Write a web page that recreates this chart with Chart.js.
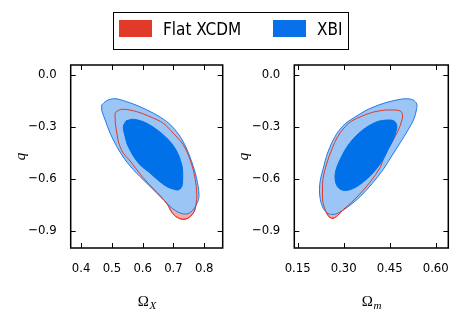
<!DOCTYPE html>
<html>
<head>
<meta charset="utf-8">
<script src="https://cdn.jsdelivr.net/npm/chart.js@4.4.1/dist/chart.umd.min.js"></script>
<style>
  body { margin: 0; background: #fff; }
  #wrap { position: relative; width: 463px; height: 327px; overflow: hidden; background: #fff; }
  .panel { position: absolute; top: 0; height: 327px; }
  #legendBox { position: absolute; left: 113px; top: 11.5px; width: 236px; height: 38.5px;
    border: 1.5px solid #000; box-sizing: border-box; }
  .sw { position: absolute; top: 20px; width: 33px; height: 17px; }
  .lab { position: absolute; top: 21px; font-family: 'DejaVu Sans Condensed', 'DejaVu Sans', sans-serif;
    font-size: 17px; line-height: 17px; color: #000; white-space: nowrap; }
</style>
</head>
<body>
<div id="wrap">
  <div class="panel" style="left:0;width:232px"><canvas id="leftChart"></canvas></div>
  <div class="panel" style="left:232px;width:231px"><canvas id="rightChart"></canvas></div>
  <div id="legendBox"></div>
  <div class="sw" style="left:119px;background:#e13a28"></div>
  <div class="lab" style="left:163px">Flat XCDM</div>
  <div class="sw" style="left:273px;background:#0871e9"></div>
  <div class="lab" style="left:317px">XBI</div>
</div>
<script>
// tick labels
const leftXTicks = [0.4, 0.5, 0.6, 0.7, 0.8];
const rightXTicks = [0.15, 0.30, 0.45, 0.60];
const qTicks = [0.0, -0.3, -0.6, -0.9];

// left panel: Omega_X vs q, contours as [x, y]
const xbiOuterLeft = [
  [0.467, -0.173], [0.483, -0.148], [0.510, -0.137], [0.548, -0.154], [0.591, -0.183],
  [0.635, -0.221], [0.678, -0.269], [0.710, -0.327], [0.737, -0.404], [0.759, -0.500],
  [0.775, -0.596], [0.783, -0.692], [0.779, -0.731], [0.764, -0.779], [0.746, -0.802],
  [0.725, -0.800], [0.706, -0.783], [0.689, -0.760], [0.646, -0.683], [0.591, -0.587],
  [0.570, -0.548], [0.543, -0.490], [0.516, -0.414], [0.494, -0.336], [0.478, -0.260],
  [0.467, -0.205]
];
const xcdmLeft = [
  [0.510, -0.221], [0.517, -0.208], [0.537, -0.198], [0.581, -0.212], [0.624, -0.241],
  [0.667, -0.279], [0.699, -0.336], [0.732, -0.404], [0.756, -0.500], [0.770, -0.596],
  [0.776, -0.692], [0.773, -0.750], [0.767, -0.790], [0.752, -0.822], [0.734, -0.834],
  [0.715, -0.826], [0.700, -0.806], [0.690, -0.780], [0.682, -0.752], [0.660, -0.703],
  [0.636, -0.660], [0.603, -0.597], [0.581, -0.548], [0.556, -0.490], [0.537, -0.452],
  [0.522, -0.392], [0.516, -0.336], [0.511, -0.277]
];
const xbiInnerLeft = [
  [0.546, -0.265], [0.570, -0.256], [0.613, -0.279], [0.667, -0.346], [0.705, -0.423],
  [0.727, -0.519], [0.730, -0.596], [0.727, -0.645], [0.716, -0.664], [0.695, -0.657],
  [0.678, -0.645], [0.650, -0.608], [0.624, -0.567], [0.586, -0.509], [0.553, -0.414],
  [0.543, -0.356], [0.537, -0.298]
];

// right panel: Omega_m vs q
const xbiOuterRight = [
  [0.484, -0.140], [0.505, -0.137], [0.526, -0.144], [0.538, -0.167], [0.537, -0.202],
  [0.529, -0.254], [0.510, -0.317], [0.484, -0.392], [0.457, -0.467], [0.428, -0.548],
  [0.392, -0.629], [0.353, -0.704], [0.314, -0.762], [0.281, -0.799], [0.265, -0.806],
  [0.249, -0.801], [0.234, -0.773], [0.224, -0.721], [0.221, -0.664], [0.224, -0.606],
  [0.232, -0.548], [0.249, -0.444], [0.275, -0.346], [0.304, -0.283], [0.327, -0.254],
  [0.353, -0.225], [0.386, -0.193], [0.438, -0.159]
];
const xcdmRight = [
  [0.438, -0.202], [0.457, -0.202], [0.477, -0.204], [0.488, -0.213], [0.492, -0.237],
  [0.488, -0.271], [0.477, -0.323], [0.454, -0.398], [0.432, -0.473], [0.418, -0.537],
  [0.389, -0.612], [0.356, -0.681], [0.324, -0.739], [0.298, -0.779], [0.281, -0.811],
  [0.265, -0.828], [0.252, -0.819], [0.241, -0.785], [0.232, -0.733], [0.231, -0.664],
  [0.232, -0.606], [0.239, -0.548], [0.252, -0.473], [0.278, -0.364], [0.304, -0.300],
  [0.327, -0.265], [0.360, -0.237], [0.399, -0.213]
];
const xbiInnerRight = [
  [0.441, -0.260], [0.461, -0.263], [0.472, -0.283], [0.472, -0.317], [0.461, -0.375],
  [0.444, -0.433], [0.428, -0.490], [0.396, -0.565], [0.356, -0.629], [0.324, -0.661],
  [0.298, -0.666], [0.280, -0.646], [0.272, -0.600], [0.275, -0.548], [0.288, -0.490],
  [0.311, -0.415], [0.340, -0.352], [0.376, -0.300], [0.412, -0.268]
];

const RED = "#e13a28";
const RED_FILL = "rgb(246,170,166)";
const BLUE = "#1f78e8";
const BLUE_FILL = "rgb(155,197,245)";
const DARK_BLUE = "rgb(0,113,233)";
const tickFont = { family: "'DejaVu Sans Condensed', 'DejaVu Sans', sans-serif", size: 13 };

function closed(pts) {
  const out = pts.map(p => ({ x: p[0], y: p[1] }));
  out.push({ x: pts[0][0], y: pts[0][1] });
  return out;
}

function contour(pts, fillColor, lineColor, order, doFill) {
  return {
    data: closed(pts),
    showLine: true,
    fill: doFill ? "shape" : false,
    backgroundColor: fillColor,
    borderColor: lineColor,
    borderWidth: 1,
    pointRadius: 0,
    tension: 0.35,
    order: order
  };
}

// inward ticks, frame and axis titles
const framePlugin = {
  id: "frame",
  afterDraw(chart, args, opts) {
    const { ctx, chartArea: a } = chart;
    const xs = chart.scales.x, ys = chart.scales.y;
    ctx.save();
    ctx.strokeStyle = "#000";
    ctx.lineWidth = 1;
    ctx.beginPath();
    xs.ticks.forEach(t => {
      const px = Math.round(xs.getPixelForValue(t.value)) + 0.5;
      ctx.moveTo(px, a.bottom); ctx.lineTo(px, a.bottom - 5);
      ctx.moveTo(px, a.top); ctx.lineTo(px, a.top + 5);
    });
    ys.ticks.forEach(t => {
      const py = Math.round(ys.getPixelForValue(t.value)) + 0.5;
      ctx.moveTo(a.left, py); ctx.lineTo(a.left + 5, py);
      ctx.moveTo(a.right, py); ctx.lineTo(a.right - 5, py);
    });
    ctx.stroke();
    ctx.lineWidth = 1.5;
    ctx.strokeRect(a.left, a.top, a.right - a.left, a.bottom - a.top);

    // x title: Omega with subscript
    ctx.fillStyle = "#000";
    ctx.textBaseline = "alphabetic";
    ctx.font = "15px 'Liberation Serif', serif";
    const mainW = ctx.measureText("Ω").width;
    ctx.font = "italic 11px 'Liberation Serif', serif";
    const subW = ctx.measureText(opts.sub).width;
    const cx = (a.left + a.right) / 2;
    const x0 = cx - (mainW + subW) / 2;
    ctx.font = "15px 'Liberation Serif', serif";
    ctx.fillText("Ω", x0, 305.5);
    ctx.font = "italic 11px 'Liberation Serif', serif";
    ctx.fillText(opts.sub, x0 + mainW + 0.5, 308.5);

    // y title: q
    ctx.save();
    ctx.translate(a.left - 50, (a.top + a.bottom) / 2);
    ctx.rotate(-Math.PI / 2);
    ctx.font = "italic 15px 'Liberation Serif', serif";
    ctx.textAlign = "center";
    ctx.textBaseline = "middle";
    ctx.fillText("q", 0, 0);
    ctx.restore();
    ctx.restore();
  }
};

function makeChart(id, outer, xcdm, inner, xMin, xMax, xTicks, digits, yWidth, rightPad, sub) {
  return new Chart(document.getElementById(id), {
    type: "scatter",
    data: {
      datasets: [
        contour(xcdm, RED_FILL, RED, 4, true),
        contour(outer, BLUE_FILL, BLUE, 3, true),
        contour(xcdm, "rgba(0,0,0,0)", RED, 2, false),
        contour(inner, DARK_BLUE, DARK_BLUE, 1, true)
      ]
    },
    options: {
      responsive: true,
      maintainAspectRatio: false,
      animation: false,
      layout: { padding: { top: 65, right: rightPad, left: 0, bottom: 0 } },
      plugins: { legend: { display: false }, tooltip: { enabled: false }, frame: { sub: sub } },
      scales: {
        x: {
          type: "linear",
          min: xMin,
          max: xMax,
          afterBuildTicks: (scale) => { scale.ticks = xTicks.map(v => ({ value: v })); },
          afterFit: (scale) => { scale.height = 79; },
          grid: { display: false },
          border: { display: false },
          ticks: {
            font: tickFont,
            color: "#000",
            padding: 5,
            maxRotation: 0,
            autoSkip: false,
            callback: (v) => v.toFixed(digits)
          }
        },
        y: {
          type: "linear",
          min: -1.0,
          max: 0.058,
          afterBuildTicks: (scale) => { scale.ticks = qTicks.map(v => ({ value: v })); },
          afterFit: (scale) => { scale.width = yWidth; },
          grid: { display: false },
          border: { display: false },
          ticks: {
            font: tickFont,
            color: "#000",
            padding: 6,
            autoSkip: false,
            callback: (v) => v.toFixed(1).replace("-", "\u2212")
          }
        }
      }
    },
    plugins: [framePlugin]
  });
}

makeChart("leftChart", xbiOuterLeft, xcdmLeft, xbiInnerLeft, 0.366, 0.86, leftXTicks, 1, 70.7, 9.3, "X");
makeChart("rightChart", xbiOuterRight, xcdmRight, xbiInnerRight, 0.139, 0.641, rightXTicks, 2, 62.3, 14.7, "m");
</script>
</body>
</html>
